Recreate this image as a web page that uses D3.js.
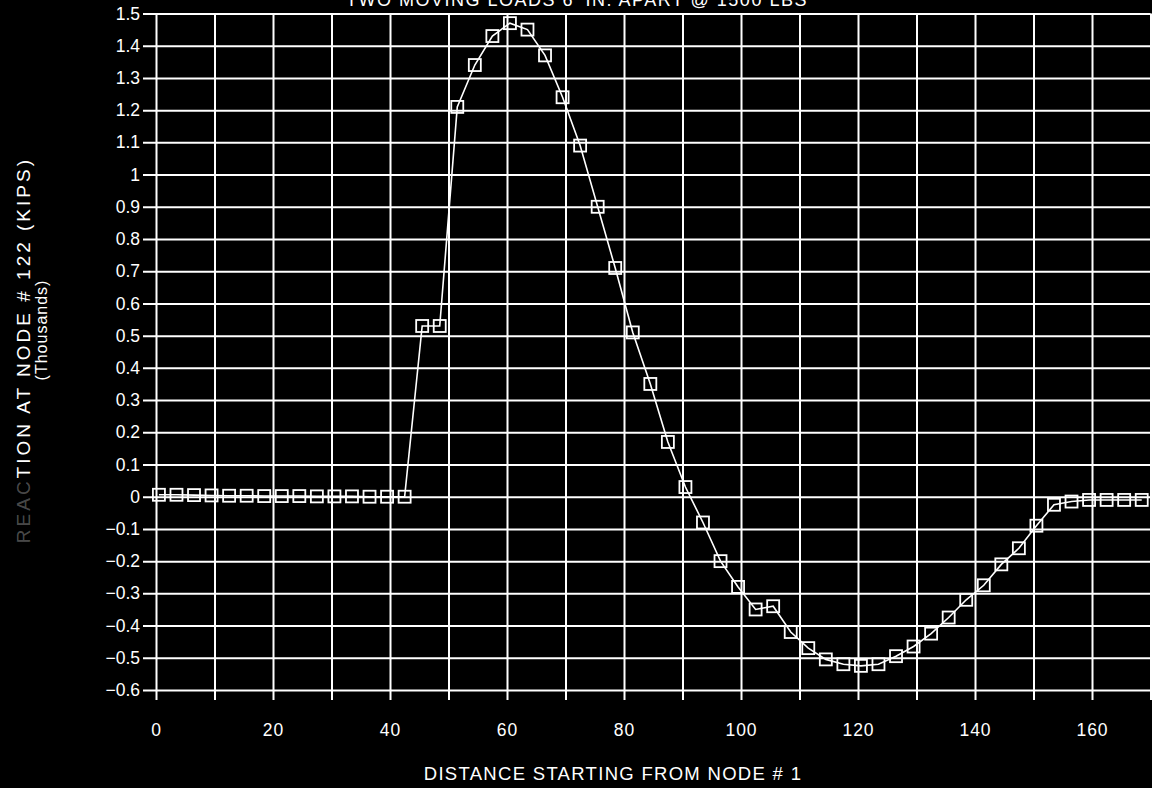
<!DOCTYPE html>
<html>
<head>
<meta charset="utf-8">
<script src="https://cdn.jsdelivr.net/npm/d3@7"></script>
<style>
    body { margin: 0; background: #000; }
    svg { display: block; }
</style>
</head>
<body>
<script>
// Chart data
let distance = [0.5, 3.5, 6.5, 9.5, 12.5, 15.5, 18.5, 21.5, 24.5, 27.5,
    30.5, 33.5, 36.5, 39.5, 42.5, 45.5, 48.5, 51.5, 54.5, 57.5,
    60.5, 63.5, 66.5, 69.5, 72.5, 75.5, 78.5, 81.5, 84.5, 87.5,
    90.5, 93.5, 96.5, 99.5, 102.5, 105.5, 108.5, 111.5, 114.5, 117.5,
    120.5, 123.5, 126.5, 129.5, 132.5, 135.5, 138.5, 141.5, 144.5, 147.5,
    150.5, 153.5, 156.5, 159.5, 162.5, 165.5, 168.5];

let reaction = [0.006, 0.006, 0.005, 0.004, 0.003, 0.003, 0.002, 0.002, 0.002, 0.001,
    0.001, 0.001, 0.000, 0.000, 0.000, 0.53, 0.53, 1.21, 1.34, 1.43,
    1.47, 1.45, 1.37, 1.24, 1.09, 0.90, 0.71, 0.51, 0.35, 0.17,
    0.03, -0.08, -0.20, -0.28, -0.35, -0.34, -0.42, -0.47, -0.505, -0.52,
    -0.525, -0.52, -0.495, -0.465, -0.425, -0.375, -0.32, -0.275, -0.21, -0.16,
    -0.09, -0.025, -0.015, -0.01, -0.01, -0.01, -0.01];

let xGridValues = [0, 10, 20, 30, 40, 50, 60, 70, 80, 90, 100, 110, 120, 130, 140, 150, 160, 170];
let xTickValues = [0, 20, 40, 60, 80, 100, 120, 140, 160];
let xTickLabels = ['0', '20', '40', '60', '80', '100', '120', '140', '160'];

let yTickValues = [1.5, 1.4, 1.3, 1.2, 1.1, 1, 0.9, 0.8, 0.7, 0.6, 0.5, 0.4, 0.3, 0.2, 0.1,
    0, -0.1, -0.2, -0.3, -0.4, -0.5, -0.6];
let yTickLabels = ['1.5', '1.4', '1.3', '1.2', '1.1', '1', '0.9', '0.8', '0.7', '0.6', '0.5',
    '0.4', '0.3', '0.2', '0.1', '0', '\u22120.1', '\u22120.2', '\u22120.3', '\u22120.4',
    '\u22120.5', '\u22120.6'];

let title = 'TWO MOVING LOADS 6\' IN. APART @ 1500 LBS';
let yTitleFaded = 'REAC';
let yTitle = 'TION AT NODE # 122 (KIPS)';
let yTitle2 = '(Thousands)';
let xTitle = 'DISTANCE STARTING FROM NODE # 1';

let points = distance.map((d, i) => ({ x: d, y: reaction[i] }));

// SVG
let width = 1152, height = 788;
let font = '"Liberation Sans", Arial, sans-serif';

let svg = d3
    .select('body')
    .append('svg')
    .attr('width', width)
    .attr('height', height)
    .style('background', '#000');

// Scales
let xScale = d3.scaleLinear()
    .domain([0, 170])
    .range([156, 1150.5]);

let yScale = d3.scaleLinear()
    .domain([-0.6, 1.5])
    .range([690, 13.5]);

// Grid: horizontal lines reach a little past the left edge (outer ticks)
let yGrid = svg
    .append('g')
    .attr('transform', `translate(${xScale(170)},0)`)
    .call(d3.axisLeft(yScale)
        .tickValues(yTickValues)
        .tickSize(xScale(170) - 143)
        .tickPadding(3)
        .tickFormat((d, i) => yTickLabels[i]));

yGrid.select('.domain').remove();
yGrid.selectAll('line')
    .attr('stroke', '#fff')
    .attr('stroke-width', 2);
yGrid.selectAll('text')
    .attr('fill', '#fff')
    .style('font-family', font)
    .style('font-size', '17.5px');

// Grid: vertical lines reach a little below the bottom edge
let xGrid = svg
    .append('g')
    .attr('transform', `translate(0,${yScale(1.5)})`)
    .call(d3.axisBottom(xScale)
        .tickValues(xGridValues)
        .tickSize(700 - yScale(1.5))
        .tickFormat(''));

xGrid.select('.domain').remove();
xGrid.selectAll('line')
    .attr('stroke', '#fff')
    .attr('stroke-width', 2);

// X tick labels
let xAxis = svg
    .append('g')
    .attr('transform', 'translate(0,700)')
    .call(d3.axisBottom(xScale)
        .tickValues(xTickValues)
        .tickSize(0)
        .tickPadding(24)
        .tickFormat((d, i) => xTickLabels[i]));

xAxis.select('.domain').remove();
xAxis.selectAll('text')
    .attr('fill', '#fff')
    .style('font-family', font)
    .style('font-size', '17.5px')
    .style('letter-spacing', '1px');

// Line + square markers
let line = d3.line()
    .x(d => xScale(d.x))
    .y(d => yScale(d.y));

svg.append('path')
    .datum(points)
    .attr('d', line)
    .attr('fill', 'none')
    .attr('stroke', '#fff')
    .attr('stroke-width', 1.6);

let s = 12;
svg.selectAll('rect.marker')
    .data(points)
    .enter()
    .append('rect')
    .attr('class', 'marker')
    .attr('x', d => xScale(d.x) - s / 2)
    .attr('y', d => yScale(d.y) - s / 2)
    .attr('width', s)
    .attr('height', s)
    .attr('fill', 'none')
    .attr('stroke', '#fff')
    .attr('stroke-width', 1.8);

// Titles (the top one is clipped by the page edge, as in the scan)
svg.append('text')
    .attr('x', 577)
    .attr('y', 6)
    .attr('text-anchor', 'middle')
    .attr('fill', '#fff')
    .style('font-family', font)
    .style('font-size', '18px')
    .style('letter-spacing', '1.5px')
    .text(title);

let yLabel = svg.append('text')
    .attr('transform', 'translate(30,157) rotate(-90)')
    .attr('text-anchor', 'end')
    .attr('fill', '#fff')
    .style('font-family', font)
    .style('font-size', '19px')
    .style('letter-spacing', '3px');

yLabel.append('tspan')
    .attr('fill-opacity', 0.3)
    .text(yTitleFaded);

yLabel.append('tspan')
    .text(yTitle);

svg.append('text')
    .attr('transform', 'translate(47,330) rotate(-90)')
    .attr('text-anchor', 'middle')
    .attr('fill', '#fff')
    .style('font-family', font)
    .style('font-size', '16px')
    .style('letter-spacing', '1px')
    .text(yTitle2);

svg.append('text')
    .attr('x', 613)
    .attr('y', 780)
    .attr('text-anchor', 'middle')
    .attr('fill', '#fff')
    .style('font-family', font)
    .style('font-size', '18.5px')
    .style('letter-spacing', '1.3px')
    .text(xTitle);
</script>
</body>
</html>
